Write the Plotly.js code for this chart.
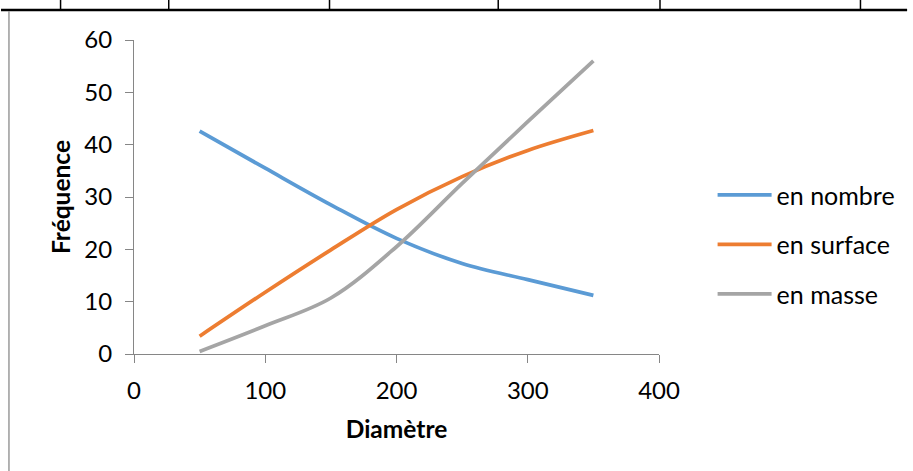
<!DOCTYPE html>
<html>
<head>
<meta charset="utf-8">
<script src="https://cdn.plot.ly/plotly-3.0.1.min.js"></script>
<style>html,body{margin:0;padding:0;background:#fff;}#chart{width:913px;height:471px;}</style>
</head>
<body>
<div id="chart"></div>
<script>
// Data
const diametre = [50, 100, 150, 200, 250, 300, 350];
const enNombre = [42.6, 35.5, 28.5, 22.1, 17.3, 14.2, 11.2];
const enSurface = [3.4, 11.8, 19.9, 27.6, 33.9, 38.9, 42.7];
const enMasse = [0.5, 5.4, 10.7, 20.5, 32.6, 44.4, 56.0];
const seriesNames = ["en nombre", "en surface", "en masse"];
const seriesColors = ["#5B9BD5", "#ED7D31", "#A5A5A5"];
const xTitle = "Diamètre";
const yTitle = "Fréquence";

const M = {l: 134, r: 250, t: 40, b: 117};
const W = 913, H = 471;
const PW = W - M.l - M.r, PH = H - M.t - M.b;
const px2x = p => (p - M.l) / PW;
const px2y = p => 1 - (p - M.t) / PH;

const seriesValues = [enNombre, enSurface, enMasse];
const traces = seriesValues.map((v, i) => ({
  x: diametre, y: v, type: 'scatter', mode: 'lines', name: seriesNames[i],
  legendgroup: 'g' + i,
  line: {color: seriesColors[i], width: 3.75, shape: 'spline', smoothing: 1},
  hoverinfo: 'skip'
}));

// page decoration (document table borders)
const shapes = [];
shapes.push({type: 'line', xref: 'paper', yref: 'paper', x0: px2x(0), x1: px2x(913), y0: px2y(10), y1: px2y(10), line: {color: '#000', width: 2.5}});
[60, 169, 331, 501, 664, 866].forEach(p => shapes.push({type: 'line', xref: 'paper', yref: 'paper', x0: px2x(p), x1: px2x(p), y0: px2y(0), y1: px2y(10), line: {color: '#000', width: 1.5}}));
shapes.push({type: 'line', xref: 'paper', yref: 'paper', x0: px2x(8), x1: px2x(8), y0: px2y(11), y1: px2y(471), line: {color: '#9a9a9a', width: 1.5}});

const axisCommon = {
  showgrid: false, zeroline: false, showline: true, linecolor: '#868686', linewidth: 1,
  ticks: 'outside', ticklen: 8, tickcolor: '#868686', tickwidth: 1,
  tickfont: {family: 'Lato', size: 24, color: '#000'}, fixedrange: true
};

const layout = {
  width: W, height: H, margin: M, paper_bgcolor: '#fff', plot_bgcolor: '#fff',
  showlegend: true,
  xaxis: Object.assign({}, axisCommon, {range: [0, 400], dtick: 100, tick0: 0, ticklabelstandoff: 7,
    title: {text: xTitle, standoff: 18, font: {family: 'Lato', size: 24.5, weight: 700, color: '#000'}}}),
  yaxis: Object.assign({}, axisCommon, {range: [0, 60], dtick: 10, tick0: 0, ticklabelstandoff: 8,
    title: {text: yTitle, standoff: 6, font: {family: 'Lato', size: 24.5, weight: 700, color: '#000'}}}),
  legend: {x: px2x(717), y: px2y(172), xanchor: 'left', yanchor: 'top', itemwidth: 54, tracegroupgap: 14,
    font: {family: 'Lato', size: 25, color: '#000'}, bgcolor: 'rgba(0,0,0,0)'},
  shapes: shapes
};

Plotly.newPlot('chart', traces, layout, {staticPlot: true, displayModeBar: false});
</script>
</body>
</html>
